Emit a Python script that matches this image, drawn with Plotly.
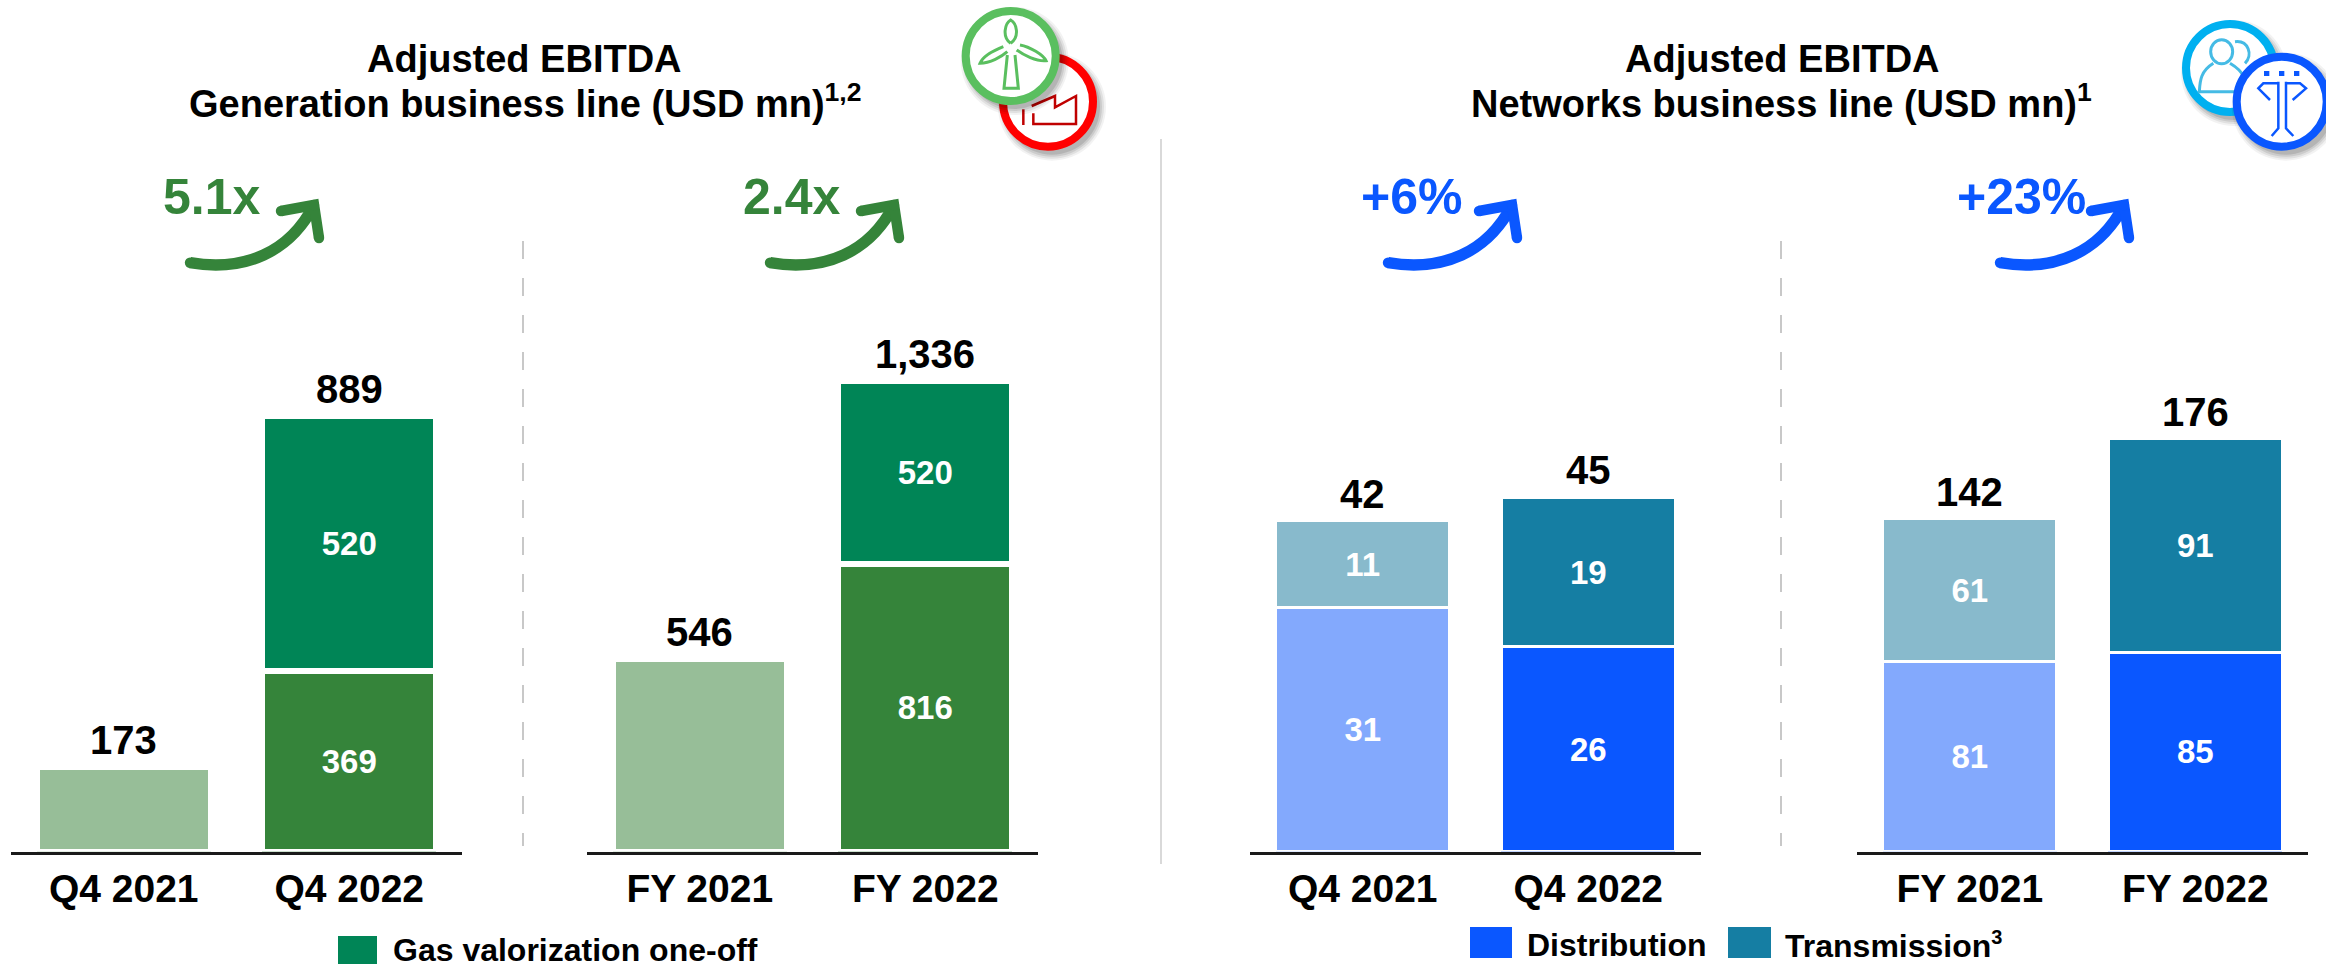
import plotly.graph_objects as go

W, H = 2326, 968
FONT = "Liberation Sans"
BASE_Y = 851.5

# ---- data ----
q_cats = ["Q4 2021", "Q4 2022"]
fy_cats = ["FY 2021", "FY 2022"]

gen_q_base = [173, 369]
gen_q_oneoff = [None, 520]
gen_q_total = [173, 889]

gen_fy_base = [546, 816]
gen_fy_oneoff = [None, 520]
gen_fy_total = [546, 1336]

net_q_dist = [31, 26]
net_q_trans = [11, 19]
net_q_total = [42, 45]

net_fy_dist = [81, 85]
net_fy_trans = [61, 91]
net_fy_total = [142, 176]

growth_labels = ["5.1x", "2.4x", "+6%", "+23%"]

# ---- colours ----
GREEN, GREEN_L, ONEOFF = "#35843A", "#97BE98", "#008556"
BLUE, BLUE_L, TEAL, TEAL_L = "#0A57FF", "#83A9FD", "#157EA3", "#88BACC"

# ---- layout geometry: pixel helpers ----
px = lambda x: x / W
py = lambda y: 1 - y / H

panels = [
    dict(x0=11, x1=462, k=0.4895, cats=q_cats, s1=gen_q_base, s2=gen_q_oneoff, tot=gen_q_total,
         c1=[GREEN_L, GREEN], c2=[ONEOFF, ONEOFF], n1="Generation", n2="Gas valorization one-off", lw=6,
         inner1=[False, True]),
    dict(x0=587, x1=1038, k=0.352, cats=fy_cats, s1=gen_fy_base, s2=gen_fy_oneoff, tot=gen_fy_total,
         c1=[GREEN_L, GREEN], c2=[ONEOFF, ONEOFF], n1="Generation", n2="Gas valorization one-off", lw=6,
         inner1=[False, True]),
    dict(x0=1250, x1=1701, k=7.87, cats=q_cats, s1=net_q_dist, s2=net_q_trans, tot=net_q_total,
         c1=[BLUE_L, BLUE], c2=[TEAL_L, TEAL], n1="Distribution", n2="Transmission", lw=3,
         inner1=[True, True]),
    dict(x0=1857, x1=2308, k=2.345, cats=fy_cats, s1=net_fy_dist, s2=net_fy_trans, tot=net_fy_total,
         c1=[BLUE_L, BLUE], c2=[TEAL_L, TEAL], n1="Distribution", n2="Transmission", lw=3,
         inner1=[True, True]),
]

fig = go.Figure()
annotations, shapes = [], []


def note(text, x, y, size, color="#000000", anchor="center", **extra):
    annotations.append(dict(text=text, x=px(x), y=py(y), xref="paper", yref="paper", showarrow=False,
                            xanchor=anchor, yanchor="middle",
                            font=dict(family=FONT, size=size, color=color, weight=700), **extra))


layout_axes = {}
for i, p in enumerate(panels, start=1):
    sx = "" if i == 1 else str(i)
    xa, ya = f"x{sx}", f"y{sx}"
    for vals, cols, name, shown in ((p["s1"], p["c1"], p["n1"], p["inner1"]),
                                    (p["s2"], p["c2"], p["n2"], [v is not None for v in p["s2"]])):
        fig.add_trace(go.Bar(
            x=p["cats"], y=vals, name=name, xaxis=xa, yaxis=ya, showlegend=False,
            marker=dict(color=cols, line=dict(color="#FFFFFF", width=p["lw"])),
            text=[str(v) if s else None for v, s in zip(vals, shown)],
            textposition="inside", insidetextanchor="middle", textangle=0, constraintext="none",
            insidetextfont=dict(family=FONT, size=33, color="#FFFFFF", weight=700),
            cliponaxis=False,
        ))
    layout_axes[f"xaxis{sx}"] = dict(
        domain=[px(p["x0"]), px(p["x1"])], anchor=ya, type="category", range=[-0.5, 1.5],
        showgrid=False, zeroline=False, showline=True, linecolor="#1A1A1A", linewidth=2.5,
        ticks="outside", ticklen=1, tickcolor="rgba(0,0,0,0)",
        tickfont=dict(family=FONT, size=39, color="#000000", weight=700),
    )
    layout_axes[f"yaxis{sx}"] = dict(
        domain=[py(BASE_Y), 1], anchor=xa, range=[0, BASE_Y / p["k"]], visible=False,
    )
    for cat, total in zip(p["cats"], p["tot"]):
        annotations.append(dict(
            text=f"{total:,}", x=cat, y=total, xref=xa, yref=ya, showarrow=False,
            yanchor="bottom", xanchor="center", yshift=3,
            font=dict(family=FONT, size=40, color="#000000", weight=700)))

# ---- titles ----
note("Adjusted EBITDA", 524, 59, 38)
note("Generation business line (USD mn)<sup>1,2</sup>", 525, 101, 38)
note("Adjusted EBITDA", 1782, 59, 38)
note("Networks business line (USD mn)<sup>1</sup>", 1781, 101, 38)


# ---- growth arrows ----
def stroke(path, color, width, fill="rgba(0,0,0,0)"):
    shapes.append(dict(type="path", path=path, xref="paper", yref="paper", fillcolor=fill,
                       line=dict(color=color, width=width), layer="above"))


def pth(cmds):
    out = []
    for c in cmds:
        if isinstance(c, str):
            out.append(c)
        else:
            out.append(f"{px(c[0]):.6f},{py(c[1]):.6f}")
    return " ".join(out)


def disc(cx, cy, r, fill, line=None, lw=0, opacity=1):
    shapes.append(dict(type="circle", xref="paper", yref="paper", x0=px(cx - r), x1=px(cx + r),
                       y0=py(cy + r), y1=py(cy - r), fillcolor=fill, opacity=opacity,
                       line=dict(color=line or fill, width=lw), layer="above"))


def arrow(dx, color):
    pts = dict(t=(190 + dx, 262.7), c1=(245 + dx, 272), c2=(290 + dx, 252), tip=(314 + dx, 205),
               b1=(281 + dx, 211), b2=(319 + dx, 238))
    stroke(pth(["M", pts["t"], "C", pts["c1"], pts["c2"], pts["tip"]]), color, 11.5)
    stroke(pth(["M", pts["b1"], "L", pts["tip"], "L", pts["b2"]]), color, 10.5)
    for key in ("t", "b1", "tip", "b2"):
        disc(pts[key][0], pts[key][1], 5.2, color)


for label, tx, dx, col in zip(growth_labels, (212, 792, 1411, 2021), (0, 580, 1198, 1810),
                              (GREEN, GREEN, BLUE, BLUE)):
    note(label, tx, 197, 50, col)
    arrow(dx, col)


# ---- dividers ----
def vline(x, y0, y1, color, dash="solid", width=2):
    shapes.append(dict(type="line", xref="paper", yref="paper", x0=px(x), x1=px(x), y0=py(y0), y1=py(y1),
                       line=dict(color=color, width=width, dash=dash), layer="below"))


vline(523, 241, 846, "#C8C8C8", "18px,19px")
vline(1781, 241, 846, "#C8C8C8", "18px,19px")
vline(1161, 139, 864, "#D9D9D9")


# ---- legends ----
def swatch(x0, x1, y0, y1, color):
    shapes.append(dict(type="rect", xref="paper", yref="paper", x0=px(x0), x1=px(x1), y0=py(y1), y1=py(y0),
                       fillcolor=color, line=dict(width=0), layer="above"))


swatch(338, 377, 936, 964, ONEOFF)
note("Gas valorization one-off", 391, 950, 32, anchor="left", height=34)
swatch(1470, 1512, 927, 958, BLUE)
note("Distribution", 1525, 945, 32, anchor="left")
swatch(1728, 1771, 927, 958, TEAL)
note('Transmission<sup><span style="font-size:20px">3</span></sup>', 1783, 945, 32, anchor="left")


# ---- icons ----
def badge(cx, cy, color, r=49, ring=8):
    for i, o in enumerate((0.05, 0.07, 0.09, 0.11)):
        disc(cx + 4, cy + 5, r + 5 - i * 2, "#000000", opacity=o)
    disc(cx, cy, r - ring / 2, "#FFFFFF", color, ring)


def z(ox, oy):
    return lambda a, b: (ox + a / 3, oy + b / 3)


ICON_GREEN, ICON_RED = "#5ABF5F", "#FF0000"
ICON_CYAN, ICON_CYAN2 = "#00B0F0", "#45BBE5"

# factory under the turbine badge
f = z(920, 0)
badge(1048, 101.7, ICON_RED)
stroke(pth(["M", f(340, 340), "L", f(340, 372), "L", f(468, 372), "L", f(468, 288), "L", f(405, 322),
            "L", f(405, 288), "L", f(335, 318)]), "#C00000", 2.5)
stroke(pth(["M", f(310, 328), "L", f(310, 375)]), "#C00000", 2.5)

badge(1010.7, 56, ICON_GREEN)
for seg in (
    ["M", f(272, 130), "C", f(245, 110), f(255, 70), f(272, 60), "C", f(290, 70), f(300, 110), f(272, 130)],
    ["M", f(250, 140), "C", f(225, 150), f(190, 165), f(180, 190), "C", f(210, 190), f(245, 170), f(262, 155)],
    ["M", f(300, 135), "C", f(330, 140), f(370, 165), f(378, 182), "C", f(350, 185), f(310, 165), f(290, 150)],
    ["M", f(262, 165), "L", f(252, 265), "L", f(295, 265), "L", f(285, 165)],
):
    stroke(pth(seg), ICON_GREEN, 3)

# people under the network badge
n = z(2150, 0)
badge(2230, 68, ICON_CYAN, r=48)
head_c = n(215, 155)
shapes.append(dict(type="circle", xref="paper", yref="paper", x0=px(head_c[0] - 11), x1=px(head_c[0] + 11),
                   y0=py(head_c[1] + 12), y1=py(head_c[1] - 12), line=dict(color=ICON_CYAN2, width=3),
                   fillcolor="rgba(0,0,0,0)", layer="above"))
for seg in (
    ["M", n(190, 190), "C", n(150, 215), n(150, 245), n(148, 275), "L", n(275, 275)],
    ["M", n(240, 190), "C", n(265, 205), n(275, 215), n(280, 230)],
    ["M", n(255, 125), "C", n(295, 120), n(310, 165), n(285, 190)],
):
    stroke(pth(seg), ICON_CYAN2, 3)

badge(2281.7, 101.7, BLUE)
for seg in (
    ["M", n(385, 245), "L", n(385, 385), "L", n(365, 408)],
    ["M", n(408, 245), "L", n(408, 385), "L", n(430, 408)],
    ["M", n(385, 250), "L", n(340, 250), "L", n(325, 265), "L", n(360, 300)],
    ["M", n(408, 250), "L", n(450, 250), "L", n(468, 265), "L", n(428, 300)],
):
    stroke(pth(seg), BLUE, 2.5)
for a in (350, 395, 440):
    swatch(2150 + (a - 8) / 3, 2150 + (a + 8) / 3, 71, 76, BLUE)

fig.update_layout(
    width=W, height=H, margin=dict(l=0, r=0, t=0, b=0), barmode="stack", bargap=0.23,
    plot_bgcolor="#FFFFFF", paper_bgcolor="#FFFFFF", showlegend=False,
    annotations=annotations, shapes=shapes, **layout_axes,
)
fig.write_html("out.html", config={"displayModeBar": False},
               post_script="document.body.style.margin='0';document.body.style.overflow='hidden';")
